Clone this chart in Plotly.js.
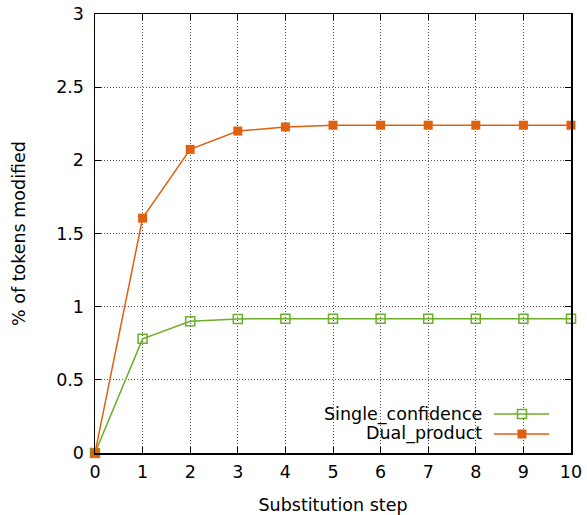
<!DOCTYPE html>
<html>
<head>
<meta charset="utf-8">
<script src="https://cdn.plot.ly/plotly-3.0.1.min.js"></script>
<style>html,body{margin:0;padding:0;background:#fff;}#chart{width:587px;height:515px;}</style>
</head>
<body>
<div id="chart"></div>
<script>
const steps = [0,1,2,3,4,5,6,7,8,9,10];
const singleConfidence = [0,0.78,0.90,0.916,0.918,0.918,0.918,0.918,0.918,0.918,0.918];
const dualProduct = [0,1.605,2.075,2.20,2.228,2.24,2.24,2.24,2.24,2.24,2.24];
const seriesNames = ["Single_confidence","Dual_product"];
const greenColor = "#6aae2a";
const orangeColor = "#e06010";

const font = {family: "DejaVu Sans, sans-serif", size: 17.5, color: "#000"};

const traces = [
  {x: steps, y: singleConfidence, name: seriesNames[0], mode: "lines+markers", cliponaxis: false,
   line: {color: greenColor, width: 1.5},
   marker: {symbol: "square-open", size: 9, color: greenColor, line: {width: 1.5, color: greenColor}}},
  {x: steps, y: dualProduct, name: seriesNames[1], mode: "lines+markers", cliponaxis: false,
   line: {color: orangeColor, width: 1.5},
   marker: {symbol: "square", size: 9, color: orangeColor}},
  // legend samples on an overlay axis
  {x: [0.897], y: [0.0888], xaxis: "x2", yaxis: "y2", mode: "markers", showlegend: false, hoverinfo: "skip",
   marker: {symbol: "square", size: 9, color: "#fff", line: {width: 1.5, color: greenColor}}},
  {x: [0.897], y: [0.0433], xaxis: "x2", yaxis: "y2", mode: "markers", showlegend: false, hoverinfo: "skip",
   marker: {symbol: "square", size: 9, color: orangeColor}}
];

const axisCommon = {
  showline: true, linecolor: "#000", linewidth: 1.5, mirror: "allticks",
  ticks: "inside", ticklen: 6, tickwidth: 1, tickcolor: "#000",
  showgrid: true, gridcolor: "#555", gridwidth: 1, griddash: "1px,2px",
  zeroline: false, tickfont: font
};

const layout = {
  width: 587, height: 515,
  margin: {l: 95, r: 16, t: 14, b: 62},
  paper_bgcolor: "#fff", plot_bgcolor: "#fff",
  font: font,
  showlegend: false,
  xaxis: Object.assign({}, axisCommon, {range: [0,10], dtick: 1, tick0: 0, ticklabelstandoff: 2,
    title: {text: "Substitution step", font: font, standoff: 18}}),
  yaxis: Object.assign({}, axisCommon, {range: [0,3], dtick: 0.5, tick0: 0, ticklabelstandoff: 6,
    title: {text: "% of tokens modified", font: font, standoff: 26}}),
  xaxis2: {overlaying: "x", range: [0,1], visible: false, fixedrange: true},
  yaxis2: {overlaying: "y", range: [0,1], visible: false, fixedrange: true},
  shapes: [
    {type: "line", xref: "paper", yref: "paper", x0: 0.838, x1: 0.954, y0: 0.0888, y1: 0.0888,
     line: {color: greenColor, width: 1.5}},
    {type: "line", xref: "paper", yref: "paper", x0: 0.838, x1: 0.954, y0: 0.0433, y1: 0.0433,
     line: {color: orangeColor, width: 1.5}}
  ],
  annotations: [
    {xref: "paper", yref: "paper", x: 0.817, y: 0.0888, xanchor: "right", yanchor: "middle",
     text: seriesNames[0], showarrow: false, font: font},
    {xref: "paper", yref: "paper", x: 0.817, y: 0.0433, xanchor: "right", yanchor: "middle",
     text: seriesNames[1], showarrow: false, font: font}
  ]
};

Plotly.newPlot("chart", traces, layout, {displayModeBar: false, staticPlot: true});
</script>
</body>
</html>
